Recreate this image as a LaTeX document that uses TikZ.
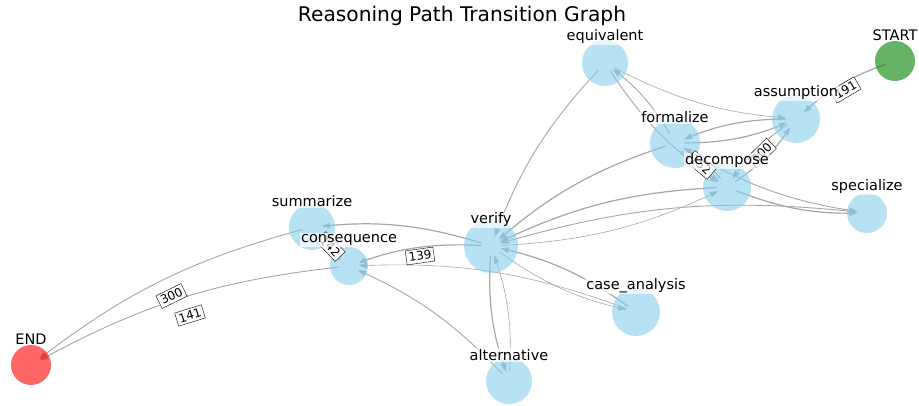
\documentclass[tikz,border=0pt]{standalone}
\usepackage{fontspec}
\setmainfont{DejaVu Sans}
\usetikzlibrary{arrows.meta}
\definecolor{skyb}{RGB}{135,206,235}
\definecolor{gstart}{RGB}{0,128,0}
\definecolor{rend}{RGB}{255,0,0}
\definecolor{edgec}{RGB}{166,166,166}
\begin{document}
\begin{tikzpicture}[x=1pt,y=-1pt,
  vnode/.style={circle, fill=skyb, fill opacity=0.6, minimum size=#1, inner sep=0pt},
  gnode/.style={circle, fill=gstart, fill opacity=0.6, minimum size=#1, inner sep=0pt},
  rnode/.style={circle, fill=rend, fill opacity=0.6, minimum size=#1, inner sep=0pt},
  nlabel/.style={font=\fontsize{14.5}{16}\selectfont, fill=white, fill opacity=0.7, text opacity=1, inner sep=1pt},
  e/.style={draw=edgec, line width=1.2pt, -{Triangle[length=8pt,width=5.5pt]}, shorten <=10pt, shorten >=10pt},
  ethin/.style={e, line width=0.6pt},
  emid/.style={e, line width=0.9pt},
  elab/.style={font=\fontsize{12}{14}\selectfont, fill=white, draw=black, line width=0.4pt, inner sep=2.5pt, sloped},
  bd/.style={bend right=11}
]
\useasboundingbox (0,0) rectangle (919,406);

% node centres
\coordinate (nstart) at (895,61);
\coordinate (nassump) at (796,119);
\coordinate (nequiv) at (605,63);
\coordinate (nform) at (675,143);
\coordinate (ndecomp) at (727,187);
\coordinate (nspec) at (867,213);
\coordinate (nverify) at (491,246);
\coordinate (nsumm) at (312,227);
\coordinate (ncons) at (349,266);
\coordinate (ncase) at (636,312);
\coordinate (nalt) at (509,381);
\coordinate (nend) at (31,365);

% edges
\draw[e] (nstart) to[bd] (nassump);
\draw[emid] (nequiv) to[bd] (nverify);
\draw[ethin] (nequiv) to[bd] (nassump);
\draw[emid] (nform) to[bd] (nequiv);
\draw[emid] (nequiv) to[bd] (ndecomp);
\draw[e] (nform) to[bd] (nassump);
\draw[e] (nassump) to[bd] (nform);
\draw[e] (ndecomp) to[bd] (nassump);
\draw[emid] (nassump) to[bd] (ndecomp);
\draw[emid] (ndecomp) to[bd] (nform);
\draw[emid] (nform) to[bd] (ndecomp);
\draw[emid] (nform) to[bd] (nspec);
\draw[e] (ndecomp) to[bd] (nspec);
\draw[emid] (nspec) to[bd] (nverify);
\draw[e] (nform) to[bd] (nverify);
\draw[e] (ndecomp) to[bd] (nverify);
\draw[ethin] (nverify) to[bd] (ndecomp);
\draw[e] (nverify) to[bd] (nsumm);
\draw[e] (nverify) to[bd] (ncons);
\draw[ethin] (ncase) to[bd] (ncons);
\draw[ethin] (nverify) to[bd] (ncase);
\draw[e] (ncase) to[bd] (nverify);
\draw[e] (nverify) to[bd] (nalt);
\draw[ethin] (nalt) to[bd] (nverify);
\draw[emid] (nalt) to[bd] (ncons);
\draw[emid] (nsumm) to[bd] (ncons);
\draw[emid] (nsumm) to[bd] (nend);
\draw[emid] (ncons) to[bd] (nend);

% node discs over the edges
\node[gnode=40] (cstart) at (nstart) {};
\node[vnode=48] (cassump) at (nassump) {};
\node[vnode=46] (cequiv) at (nequiv) {};
\node[vnode=50] (cform) at (nform) {};
\node[vnode=48] (cdecomp) at (ndecomp) {};
\node[vnode=40] (cspec) at (nspec) {};
\node[vnode=54] (cverify) at (nverify) {};
\node[vnode=46] (csumm) at (nsumm) {};
\node[vnode=38] (ccons) at (ncons) {};
\node[vnode=48] (ccase) at (ncase) {};
\node[vnode=46] (calt) at (nalt) {};
\node[rnode=40] (cend) at (nend) {};

% edge labels
\path (nassump) -- node[elab] (l1) {191} (nstart);
\path (ndecomp) -- node[elab] (l2) {300} (nassump);
\path (nform) -- node[elab] (l3) {152} (ndecomp);
\path (nsumm) -- node[elab] (l4) {142} (ncons);
\path (ncons) -- node[elab] (l5) {139} (nverify);
\path (nend) -- node[elab] (l6) {300} (nsumm);
\path (nend) -- node[elab] (l7) {141} (ncons);

% node labels
\node[nlabel] (tstart) at (895,35) {START};
\node[nlabel] (tassump) at (796,93) {assumption};
\node[nlabel] (tequiv) at (605,37) {equivalent};
\node[nlabel] (tform) at (675,117) {formalize};
\node[nlabel] (tdecomp) at (727,161) {decompose};
\node[nlabel] (tspec) at (867,187) {specialize};
\node[nlabel] (tverify) at (491,220) {verify};
\node[nlabel] (tsumm) at (312,201) {summarize};
\node[nlabel] (tcons) at (349,240) {consequence};
\node[nlabel] (tcase) at (636,286) {case\_analysis};
\node[nlabel] (talt) at (509,355) {alternative};
\node[nlabel] (tend) at (31,339) {END};

\node[font=\fontsize{20.2}{24}\selectfont] (title) at (462,16) {Reasoning Path Transition Graph};
\end{tikzpicture}
\end{document}
